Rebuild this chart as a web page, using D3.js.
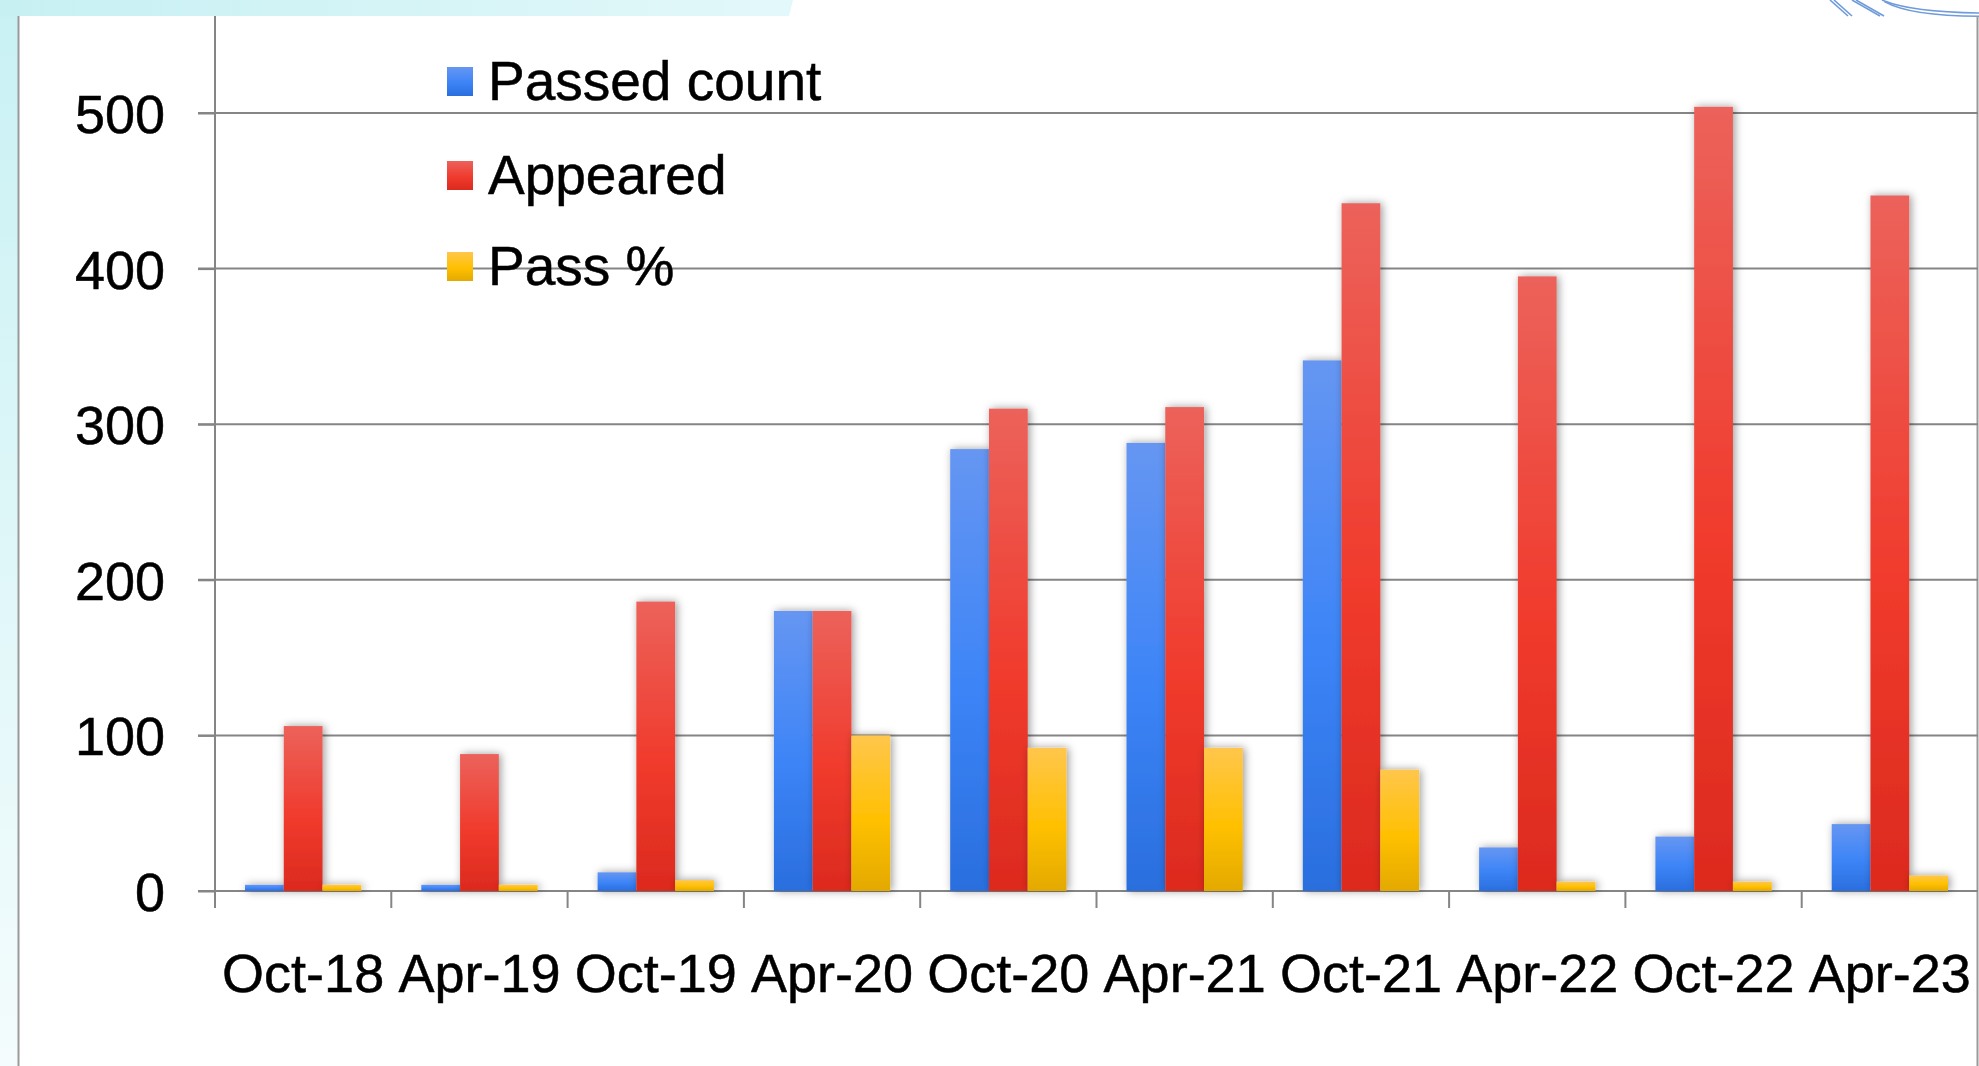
<!DOCTYPE html>
<html>
<head>
<meta charset="utf-8">
<script src="https://cdn.jsdelivr.net/npm/d3@7"></script>
<style>
  body { margin: 0; background: #fff; }
  svg { display: block; }
  text { font-family: "Liberation Sans", Arial, sans-serif; fill: #000; stroke: #000; stroke-width: 0.5px; }
</style>
</head>
<body>
<div id="canvas"></div>
<script>
const categories = ["Oct-18", "Apr-19", "Oct-19", "Apr-20", "Oct-20", "Apr-21", "Oct-21", "Apr-22", "Oct-22", "Apr-23"];
const passedCount = [4, 4, 12, 180, 284, 288, 341, 28, 35, 43];
const appeared = [106, 88, 186, 180, 310, 311, 442, 395, 504, 447];
const passPct = [4, 4, 7, 100, 92, 92, 78, 6, 6, 10];
const seriesNames = ["Passed count", "Appeared", "Pass %"];
const yTicks = [0, 100, 200, 300, 400, 500];

const width = 1979;
const height = 1066;
const margin = { top: 16, left: 215, bottom: 175, right: 1 };
const iwidth = width - margin.left - margin.right;

const canvas = d3.select("#canvas");
const svg = canvas.append("svg").attr("width", width).attr("height", height);
const defs = svg.append("defs");

// gradients for each series
const grads = [
  ["gBlue", ["#6696f2", "#3c84f7", "#2a6ede"]],
  ["gRed", ["#ec625b", "#f03b2d", "#dc2a1e"]],
  ["gYel", ["#ffc64c", "#ffc000", "#e3a900"]]
];
grads.forEach(([id, cols]) => {
  const lg = defs.append("linearGradient").attr("id", id).attr("x1", 0).attr("y1", 0).attr("x2", 0).attr("y2", 1);
  lg.append("stop").attr("offset", "0%").attr("stop-color", cols[0]);
  lg.append("stop").attr("offset", "55%").attr("stop-color", cols[1]);
  lg.append("stop").attr("offset", "100%").attr("stop-color", cols[2]);
});
const bgTop = defs.append("linearGradient").attr("id", "bgTop");
bgTop.append("stop").attr("offset", "0%").attr("stop-color", "#c7f0f3");
bgTop.append("stop").attr("offset", "100%").attr("stop-color", "#e3f8fa");
const bgLeft = defs.append("linearGradient").attr("id", "bgLeft").attr("x2", 0).attr("y2", 1);
bgLeft.append("stop").attr("offset", "0%").attr("stop-color", "#c9f1f4");
bgLeft.append("stop").attr("offset", "100%").attr("stop-color", "#f4fcfd");

const shadow = defs.append("filter").attr("id", "shadow").attr("x", "-50%").attr("y", "-10%").attr("width", "200%").attr("height", "120%");
shadow.append("feDropShadow").attr("dx", 2).attr("dy", 0).attr("stdDeviation", 4.5)
  .attr("flood-color", "#000").attr("flood-opacity", 0.4);

// background decoration
svg.append("rect").attr("x", 0).attr("y", 0).attr("width", 18).attr("height", height).attr("fill", "url(#bgLeft)");
svg.append("path").attr("d", "M0,0 L793,0 L789,16 L0,16 Z").attr("fill", "url(#bgTop)");
const arcs = svg.append("g").attr("fill", "none").attr("stroke", "#6f9bda").attr("stroke-width", 1.6);
[0, 4].forEach(o => {
  arcs.append("path").attr("d", `M${1830 + o},0 L${1848 + o},16`);
  arcs.append("path").attr("d", `M${1852 + o},0 L${1880 + o},16`);
  arcs.append("path").attr("d", `M${1882 + o * 0.6},${0 + o * 0.4} Q1910,${12 + o} 1979,${13 + o * 0.8}`);
});
svg.append("line").attr("x1", 18.5).attr("x2", 18.5).attr("y1", margin.top).attr("y2", height)
  .attr("stroke", "#9a9a9a").attr("stroke-width", 2);
svg.append("line").attr("x1", 1977.5).attr("x2", 1977.5).attr("y1", margin.top).attr("y2", height)
  .attr("stroke", "#9a9a9a").attr("stroke-width", 2);

let g = svg.append("g").attr("transform", `translate(${margin.left},0)`);

const x = d3.scaleBand().domain(categories).range([0, iwidth]).padding(0);
const xs = d3.scaleBand().domain(seriesNames).range([30, x.bandwidth() - 30]).padding(0);
const y = d3.scaleLinear().domain([0, 500]).range([891, 113]);

// gridlines
g.append("g").selectAll("line").data(yTicks).enter().append("line")
  .attr("x1", -17).attr("x2", iwidth)
  .attr("y1", d => y(d)).attr("y2", d => y(d))
  .attr("stroke", "#858585").attr("stroke-width", 2);

// y axis
const yAxis = g.append("g").call(d3.axisLeft(y).tickValues(yTicks).tickSize(17).tickPadding(33));
yAxis.select(".domain").remove();
yAxis.selectAll(".tick line").attr("stroke", "#858585").attr("stroke-width", 2);
yAxis.selectAll(".tick text").attr("font-size", 54).attr("font-family", "Liberation Sans, Arial, sans-serif").attr("dy", "0.36em");
g.append("line").attr("x1", 0).attr("x2", 0).attr("y1", margin.top).attr("y2", y(0) + 17)
  .attr("stroke", "#858585").attr("stroke-width", 2);

// x axis ticks at category boundaries
g.append("g").selectAll("line").data(categories.slice(1)).enter().append("line")
  .attr("x1", d => x(d)).attr("x2", d => x(d))
  .attr("y1", y(0)).attr("y2", y(0) + 17)
  .attr("stroke", "#858585").attr("stroke-width", 2);

g.append("g").selectAll("text").data(categories).enter().append("text")
  .attr("x", d => x(d) + x.bandwidth() / 2)
  .attr("y", 992)
  .attr("text-anchor", "middle")
  .attr("font-size", 54)
  .text(d => d);

// bars
const series = [passedCount, appeared, passPct];
const fills = ["url(#gBlue)", "url(#gRed)", "url(#gYel)"];
series.forEach((vals, si) => {
  g.append("g").attr("filter", "url(#shadow)").selectAll("rect").data(vals).enter().append("rect")
    .attr("x", (d, i) => x(categories[i]) + xs(seriesNames[si]))
    .attr("y", d => y(d))
    .attr("width", xs.bandwidth())
    .attr("height", d => y(0) - y(d))
    .attr("fill", fills[si]);
});

// legend
const legend = svg.append("g").attr("transform", "translate(447,0)");
const legendY = [67, 161, 252];
seriesNames.forEach((name, i) => {
  legend.append("rect").attr("x", 0).attr("y", legendY[i]).attr("width", 26).attr("height", 29).attr("fill", fills[i]);
  legend.append("text").attr("x", 41).attr("y", legendY[i] + 33).attr("font-size", 55).text(name);
});
</script>
</body>
</html>
